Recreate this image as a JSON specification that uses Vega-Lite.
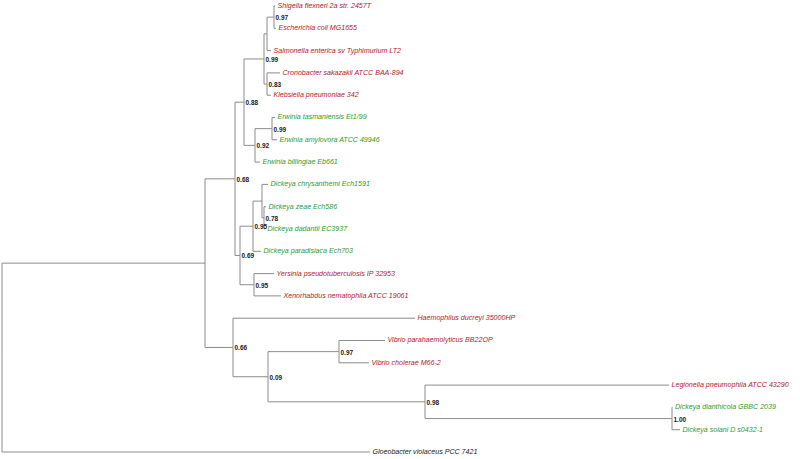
{
  "$schema": "https://vega.github.io/schema/vega-lite/v6.json",
  "width": 800,
  "height": 459,
  "padding": 0,
  "autosize": {"type": "none"},
  "background": "white",
  "config": {"view": {"stroke": null}},
  "datasets": {
    "nodes": [
      {"id": "R", "parent": null, "x": 2, "y": 15.766, "label": null, "support": null, "group": "node"},
      {"id": "A", "parent": "R", "x": 205, "y": 11.531, "label": null, "support": null, "group": "node"},
      {"id": "B", "parent": "A", "x": 235, "y": 7.75, "label": null, "support": "0.68", "group": "node"},
      {"id": "C", "parent": "A", "x": 233, "y": 15.3125, "label": null, "support": "0.66", "group": "node"},
      {"id": "N88", "parent": "B", "x": 244, "y": 4.3125, "label": null, "support": "0.88", "group": "node"},
      {"id": "N99a", "parent": "N88", "x": 264, "y": 2.375, "label": null, "support": "0.99", "group": "node"},
      {"id": "N1", "parent": "N99a", "x": 267, "y": 1.25, "label": null, "support": null, "group": "node"},
      {"id": "N97a", "parent": "N1", "x": 274, "y": 0.5, "label": null, "support": "0.97", "group": "node"},
      {"id": "N83", "parent": "N99a", "x": 267, "y": 3.5, "label": null, "support": "0.83", "group": "node"},
      {"id": "N92", "parent": "N88", "x": 255, "y": 6.25, "label": null, "support": "0.92", "group": "node"},
      {"id": "N99b", "parent": "N92", "x": 272, "y": 5.5, "label": null, "support": "0.99", "group": "node"},
      {"id": "N69", "parent": "B", "x": 240, "y": 11.1875, "label": null, "support": "0.69", "group": "node"},
      {"id": "N95a", "parent": "N69", "x": 253, "y": 9.875, "label": null, "support": "0.95", "group": "node"},
      {"id": "U", "parent": "N95a", "x": 262, "y": 8.75, "label": null, "support": null, "group": "node"},
      {"id": "N78", "parent": "U", "x": 264, "y": 9.5, "label": null, "support": "0.78", "group": "node"},
      {"id": "N95b", "parent": "N69", "x": 254, "y": 12.5, "label": null, "support": "0.95", "group": "node"},
      {"id": "N09", "parent": "C", "x": 268, "y": 16.625, "label": null, "support": "0.09", "group": "node"},
      {"id": "N97b", "parent": "N09", "x": 339, "y": 15.5, "label": null, "support": "0.97", "group": "node"},
      {"id": "N98", "parent": "N09", "x": 425, "y": 17.75, "label": null, "support": "0.98", "group": "node"},
      {"id": "N100", "parent": "N98", "x": 672, "y": 18.5, "label": null, "support": "1.00", "group": "node"},
      {"id": "L0", "parent": "N97a", "x": 275, "y": 0, "label": "Shigella flexneri 2a str. 2457T", "support": null, "group": "red"},
      {"id": "L1", "parent": "N97a", "x": 276, "y": 1, "label": "Escherichia coli MG1655", "support": null, "group": "red"},
      {"id": "L2", "parent": "N1", "x": 271, "y": 2, "label": "Salmonella enterica sv Typhimurium LT2", "support": null, "group": "red"},
      {"id": "L3", "parent": "N83", "x": 280, "y": 3, "label": "Cronobacter sakazakii ATCC BAA-894", "support": null, "group": "red"},
      {"id": "L4", "parent": "N83", "x": 271, "y": 4, "label": "Klebsiella pneumoniae 342", "support": null, "group": "red"},
      {"id": "L5", "parent": "N99b", "x": 275, "y": 5, "label": "Erwinia tasmaniensis Et1/99", "support": null, "group": "green"},
      {"id": "L6", "parent": "N99b", "x": 277, "y": 6, "label": "Erwinia amylovora ATCC 49946", "support": null, "group": "green"},
      {"id": "L7", "parent": "N92", "x": 260, "y": 7, "label": "Erwinia billingiae Eb661", "support": null, "group": "green"},
      {"id": "L8", "parent": "U", "x": 268, "y": 8, "label": "Dickeya chrysanthemi Ech1591", "support": null, "group": "green"},
      {"id": "L9", "parent": "N78", "x": 266, "y": 9, "label": "Dickeya zeae Ech586", "support": null, "group": "green"},
      {"id": "L10", "parent": "N78", "x": 265, "y": 10, "label": "Dickeya dadantii EC3937", "support": null, "group": "green"},
      {"id": "L11", "parent": "N95a", "x": 261, "y": 11, "label": "Dickeya paradisiaca Ech703", "support": null, "group": "green"},
      {"id": "L12", "parent": "N95b", "x": 274, "y": 12, "label": "Yersinia pseudotuberculosis IP 32953", "support": null, "group": "red"},
      {"id": "L13", "parent": "N95b", "x": 281, "y": 13, "label": "Xenorhabdus nematophila ATCC 19061", "support": null, "group": "red"},
      {"id": "L14", "parent": "C", "x": 415, "y": 14, "label": "Haemophilus ducreyi 35000HP", "support": null, "group": "red"},
      {"id": "L15", "parent": "N97b", "x": 385, "y": 15, "label": "Vibrio parahaemolyticus BB22OP", "support": null, "group": "red"},
      {"id": "L16", "parent": "N97b", "x": 369, "y": 16, "label": "Vibrio cholerae M66-2", "support": null, "group": "red"},
      {"id": "L17", "parent": "N98", "x": 669, "y": 17, "label": "Legionella pneumophila ATCC 43290", "support": null, "group": "red"},
      {"id": "L18", "parent": "N100", "x": 672.5, "y": 18, "label": "Dickeya dianthicola GBBC 2039", "support": null, "group": "green"},
      {"id": "L19", "parent": "N100", "x": 680, "y": 19, "label": "Dickeya solani D s0432-1", "support": null, "group": "green"},
      {"id": "L20", "parent": "R", "x": 370, "y": 20, "label": "Gloeobacter violaceus PCC 7421", "support": null, "group": "black"}
    ]
  },
  "data": {"name": "nodes"},
  "transform": [
    {"lookup": "parent", "from": {"data": {"name": "nodes"}, "key": "id", "fields": ["x", "y"]}, "as": ["px", "py"]}
  ],
  "layer": [
    {
      "transform": [{"filter": "datum.px != null"}],
      "mark": {"type": "rule", "color": "#8c8c8c", "strokeWidth": 1},
      "encoding": {
        "x": {"field": "px", "type": "quantitative", "scale": {"domain": [0, 800], "zero": false, "nice": false}, "axis": null},
        "x2": {"field": "x"},
        "y": {"field": "y", "type": "quantitative", "scale": {"domain": [-0.269, 20.314], "reverse": true, "zero": false, "nice": false}, "axis": null}
      }
    },
    {
      "transform": [{"filter": "datum.px != null"}],
      "mark": {"type": "rule", "color": "#8c8c8c", "strokeWidth": 1},
      "encoding": {
        "x": {"field": "px", "type": "quantitative", "axis": null},
        "y": {"field": "py", "type": "quantitative", "axis": null},
        "y2": {"field": "y"}
      }
    },
    {
      "transform": [{"filter": "datum.label != null"}],
      "mark": {"type": "text", "align": "left", "baseline": "middle", "dx": 2.5, "font": "Liberation Sans", "fontStyle": "italic", "fontSize": 7.1},
      "encoding": {
        "x": {"field": "x", "type": "quantitative", "axis": null},
        "y": {"field": "y", "type": "quantitative", "axis": null},
        "text": {"field": "label"},
        "color": {"field": "group", "type": "nominal", "legend": null, "scale": {"domain": ["red", "green", "black"], "range": ["#b5182b", "#2f9a2f", "#222222"]}}
      }
    },
    {
      "transform": [{"filter": "datum.support != null"}],
      "mark": {"type": "text", "align": "left", "baseline": "middle", "dx": 1.5, "dy": 1, "font": "Liberation Sans", "fontWeight": "bold", "fontSize": 6.5, "color": "#1a1a1a"},
      "encoding": {
        "x": {"field": "x", "type": "quantitative", "axis": null},
        "y": {"field": "y", "type": "quantitative", "axis": null},
        "text": {"field": "support"}
      }
    }
  ]
}
